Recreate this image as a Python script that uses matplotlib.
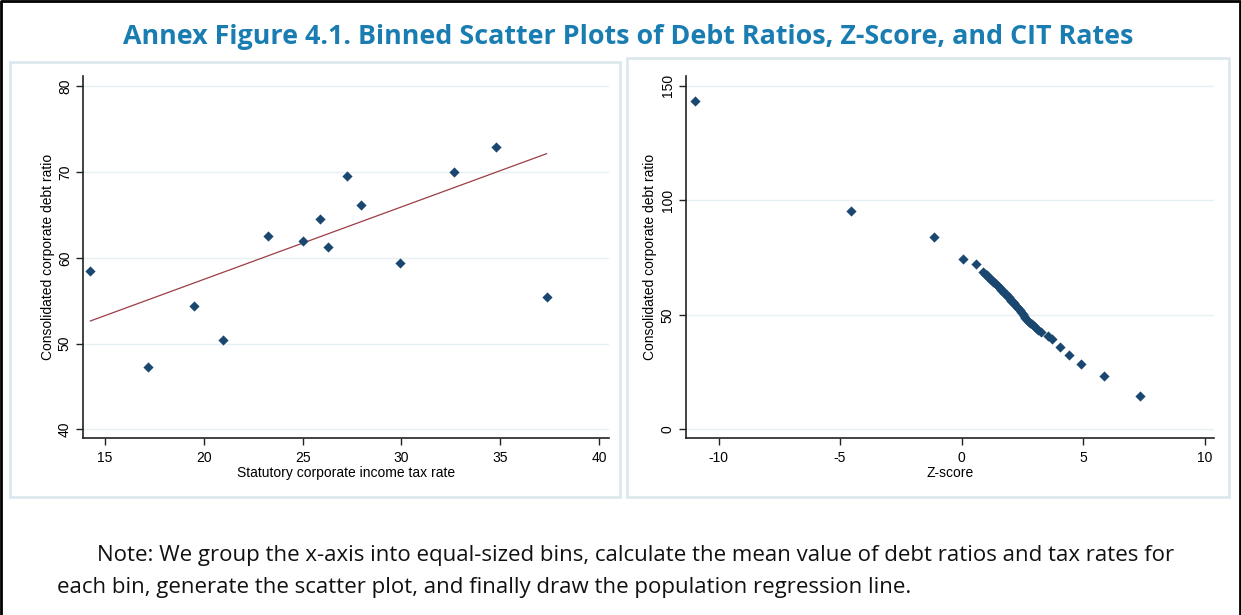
import matplotlib
matplotlib.use("Agg")
import matplotlib.pyplot as plt
import numpy as np
from matplotlib.lines import Line2D
from matplotlib.patches import Rectangle

plt.rcParams["axes.unicode_minus"] = False

# left panel: binned statutory CIT rate vs debt ratio
cit_rate = [14.26, 17.17, 19.53, 20.95, 23.26, 25.00, 25.89, 26.28, 27.25,
            27.97, 29.92, 32.64, 34.77, 37.34]
cit_debt = [58.5, 47.3, 54.4, 50.4, 62.5, 62.0, 64.5, 61.3, 69.6,
            66.2, 59.4, 70.0, 72.9, 55.4]
fit_slope = 0.845
fit_intercept = 40.59

# right panel: binned Z-score vs debt ratio
zscore = [-10.99, -4.55, -1.13, 0.06, 0.59,
          0.87, 0.95, 1.03, 1.10, 1.17, 1.24, 1.31, 1.38, 1.45, 1.52,
          1.58, 1.64, 1.70, 1.76, 1.82, 1.88, 1.94, 2.00, 2.05, 2.11,
          2.17, 2.22, 2.28, 2.33, 2.39, 2.45, 2.51, 2.57, 2.63, 2.69,
          2.76, 2.83, 2.90, 2.98, 3.06, 3.15, 3.25,
          3.54, 3.73, 4.05, 4.43, 4.93, 5.88, 7.35]
z_debt = [143.5, 95.3, 83.8, 74.3, 72.1,
          68.8, 67.9, 67.2, 66.5, 65.7, 65.1, 64.4, 63.8, 63.1, 62.5,
          61.8, 61.0, 60.3, 59.6, 58.9, 58.1, 57.6, 57.0, 56.2, 55.6,
          55.0, 54.1, 53.5, 52.8, 52.0, 51.1, 50.3, 49.5, 48.8, 47.9,
          47.1, 46.4, 45.8, 45.0, 44.2, 43.4, 42.7,
          40.8, 39.3, 36.1, 32.6, 28.7, 23.3, 14.5]

left_xticks = [15, 20, 25, 30, 35, 40]
left_yticks = [40, 50, 60, 70, 80]
right_xticks = [-10, -5, 0, 5, 10]
right_yticks = [0, 50, 100, 150]

title = "Annex Figure 4.1. Binned Scatter Plots of Debt Ratios, Z-Score, and CIT Rates"
note_1 = "Note: We group the x-axis into equal-sized bins, calculate the mean value of debt ratios and tax rates for"
note_2 = "each bin, generate the scatter plot, and finally draw the population regression line."
ylab = "Consolidated corporate debt ratio"

NAVY = "#1a476f"
MAROON = "#9c3d46"
GRID = "#e6eff1"
PANEL = "#dde8ee"

W, H = 1241, 615
fig = plt.figure(figsize=(W / 100, H / 100), dpi=100, facecolor="white")


def px_box(x0, y0, x1, y1):
    # pixel box (top-left origin) -> figure fraction [left, bottom, width, height]
    return [x0 / W, 1 - y1 / H, (x1 - x0) / W, (y1 - y0) / H]


# panel frames
for x0, y0, x1, y1 in [(10, 62, 620, 497), (627, 58, 1229, 497)]:
    l, b, w, h = px_box(x0, y0, x1, y1)
    fig.add_artist(Rectangle((l, b), w, h, transform=fig.transFigure,
                             fill=False, edgecolor=PANEL, linewidth=2))

# outer black frame (left, top, right)
fig.add_artist(Line2D([0.001, 0.001, 0.999, 0.999], [0, 0.998, 0.998, 0],
                      transform=fig.transFigure, color="black", linewidth=2))


def style_axis(ax, xticks, yticks, xlim, ylim, xlabel, ylab_x):
    ax.set_xlim(*xlim)
    ax.set_ylim(*ylim)
    ax.set_xticks(xticks)
    ax.set_yticks(yticks)
    ax.yaxis.grid(True, color=GRID, linewidth=1)
    ax.set_axisbelow(True)
    for s in ("top", "right"):
        ax.spines[s].set_visible(False)
    for s in ("left", "bottom"):
        ax.spines[s].set_color("#222222")
        ax.spines[s].set_linewidth(1.2)
    ax.tick_params(direction="out", length=5, width=1, color="#222222",
                   labelsize=10, pad=4)
    ax.tick_params(axis="y", labelrotation=90, pad=3)
    for lab in ax.get_yticklabels():
        lab.set_va("center")
        lab.set_fontfamily("Liberation Sans")
    for lab in ax.get_xticklabels():
        lab.set_fontfamily("Liberation Sans")
    ax.set_xlabel(xlabel, fontsize=10, family="Liberation Sans")
    ax.set_ylabel(ylab, fontsize=10, family="Liberation Sans")
    ax.xaxis.set_label_coords(0.5, -0.076)
    ax.yaxis.set_label_coords(ylab_x, 0.5)


ax1 = fig.add_axes(px_box(83, 76, 609, 438))
ax1.scatter(cit_rate, cit_debt, marker="D", s=27, color=NAVY, linewidths=0, zorder=3)
fx = np.array([min(cit_rate), max(cit_rate)])
ax1.plot(fx, fit_intercept + fit_slope * fx, color=MAROON, linewidth=0.9, zorder=2)
style_axis(ax1, left_xticks, left_yticks, (13.89, 40.5), (39.0, 81.2),
           "Statutory corporate income tax rate", -0.054)

ax2 = fig.add_axes(px_box(686, 76, 1214, 438))
ax2.scatter(zscore, z_debt, marker="D", s=27, color=NAVY, linewidths=0, zorder=3)
style_axis(ax2, right_xticks, right_yticks, (-11.34, 10.39), (-3.76, 154.3),
           "Z-score", -0.055)

fig.text(628 / W, 1 - 37 / H, title, ha="center", va="center",
         fontsize=19.4, fontweight="bold", color="#1a7db2", family="Open Sans")
fig.text(97 / W, 1 - 556 / H, note_1, ha="left", va="center",
         fontsize=16, color="#111111", family="Open Sans")
fig.text(57 / W, 1 - 588 / H, note_2, ha="left", va="center",
         fontsize=16, color="#111111", family="Open Sans")

fig.savefig("out.png", dpi=100, facecolor="white")
